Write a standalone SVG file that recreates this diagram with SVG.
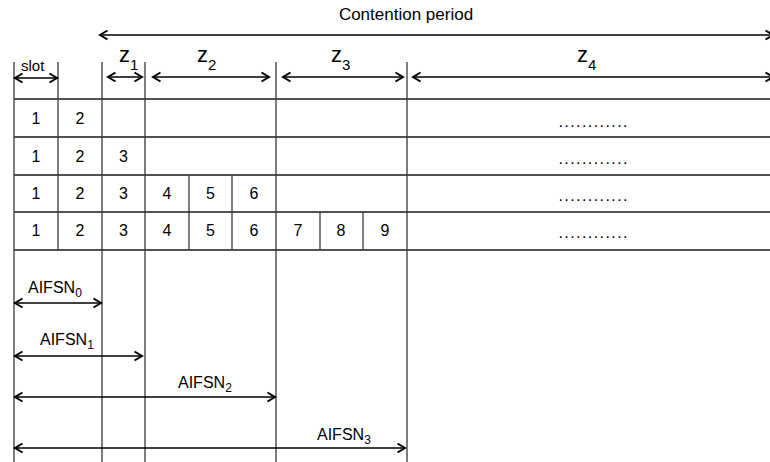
<svg xmlns="http://www.w3.org/2000/svg" width="770" height="462" viewBox="0 0 770 462">
<style>
.h{stroke:#1a1a1a;stroke-width:1.5;fill:none}
.v{stroke:#3a3a3a;stroke-width:1.3;fill:none}
.a{stroke:#000;stroke-width:1.6;fill:none;marker-start:url(#ah);marker-end:url(#ah)}
text{font-family:"Liberation Sans",Arial,sans-serif;fill:#000}
.n{font-size:16px;text-anchor:middle}
.z{font-size:22px}
.zs{font-size:15px}
.s{font-size:15px}
.l{font-size:16px}
.ls{font-size:12px}
.c{font-size:17px;text-anchor:middle}
.d{font-size:16px;text-anchor:middle}
</style>
<defs>
<marker id="ah" markerUnits="userSpaceOnUse" viewBox="-10 -6 12 12" refX="0" refY="0" markerWidth="12" markerHeight="12" orient="auto-start-reverse">
<path d="M-7.5,-4.5 L0,0 L-7.5,4.5" fill="none" stroke="#000" stroke-width="2"/>
</marker>
</defs>
<rect width="770" height="462" fill="#fff"/>
<g id="grid">
<line class="h" x1="14" y1="99" x2="770" y2="99"/>
<line class="h" x1="14" y1="137" x2="770" y2="137"/>
<line class="h" x1="14" y1="175" x2="770" y2="175"/>
<line class="h" x1="14" y1="212" x2="770" y2="212"/>
<line class="h" x1="14" y1="250" x2="770" y2="250"/>
<line class="v" x1="14" y1="62" x2="14" y2="462"/>
<line class="v" x1="58" y1="62" x2="58" y2="250"/>
<line class="v" x1="102" y1="62" x2="102" y2="462"/>
<line class="v" x1="145" y1="62" x2="145" y2="462"/>
<line class="v" x1="276" y1="62" x2="276" y2="462"/>
<line class="v" x1="407" y1="62" x2="407" y2="462"/>
<line class="v" x1="189" y1="175" x2="189" y2="250"/>
<line class="v" x1="232" y1="175" x2="232" y2="250"/>
<line class="v" x1="320" y1="212" x2="320" y2="250"/>
<line class="v" x1="363" y1="212" x2="363" y2="250"/>
</g>
<g id="cells">
<text class="n" x="36" y="124">1</text><text class="n" x="80" y="124">2</text>
<text class="n" x="36" y="161.5">1</text><text class="n" x="80" y="161.5">2</text><text class="n" x="123.5" y="161.5">3</text>
<text class="n" x="36" y="198.5">1</text><text class="n" x="80" y="198.5">2</text><text class="n" x="123.5" y="198.5">3</text><text class="n" x="167" y="198.5">4</text><text class="n" x="210.5" y="198.5">5</text><text class="n" x="254" y="198.5">6</text>
<text class="n" x="36" y="236">1</text><text class="n" x="80" y="236">2</text><text class="n" x="123.5" y="236">3</text><text class="n" x="167" y="236">4</text><text class="n" x="210.5" y="236">5</text><text class="n" x="254" y="236">6</text><text class="n" x="298" y="236">7</text><text class="n" x="341" y="236">8</text><text class="n" x="385" y="236">9</text>
<text class="d" x="593" y="127" textLength="69" lengthAdjust="spacing">............</text>
<text class="d" x="593" y="164" textLength="69" lengthAdjust="spacing">............</text>
<text class="d" x="593" y="201" textLength="69" lengthAdjust="spacing">............</text>
<text class="d" x="593" y="238" textLength="69" lengthAdjust="spacing">............</text>
</g>
<g id="connectors">
<line class="a" x1="100" y1="35" x2="773" y2="35"/>
<line class="a" x1="15" y1="78" x2="57" y2="78"/>
<line class="a" x1="108" y1="77" x2="142" y2="77"/>
<line class="a" x1="153" y1="77" x2="269" y2="77"/>
<line class="a" x1="283" y1="77" x2="403" y2="77"/>
<line class="a" x1="413" y1="77" x2="773" y2="77"/>
<line class="a" x1="15" y1="303" x2="101" y2="303"/>
<line class="a" x1="15" y1="356" x2="142" y2="356"/>
<line class="a" x1="15" y1="397" x2="275" y2="397"/>
<line class="a" x1="15" y1="448" x2="405" y2="448"/>
</g>
<g id="labels">
<text class="c" x="406" y="20">Contention period</text>
<text class="s" x="21" y="71">slot</text>
<text class="z" x="119" y="62">z<tspan class="zs" dy="8">1</tspan></text>
<text class="z" x="197" y="62">z<tspan class="zs" dy="8">2</tspan></text>
<text class="z" x="331" y="62">z<tspan class="zs" dy="8">3</tspan></text>
<text class="z" x="577" y="62">z<tspan class="zs" dy="8">4</tspan></text>
<text class="l" x="28" y="293">AIFSN<tspan class="ls" dy="4">0</tspan></text>
<text class="l" x="40" y="345">AIFSN<tspan class="ls" dy="4">1</tspan></text>
<text class="l" x="178" y="388">AIFSN<tspan class="ls" dy="4">2</tspan></text>
<text class="l" x="317" y="440">AIFSN<tspan class="ls" dy="4">3</tspan></text>
</g>
</svg>
